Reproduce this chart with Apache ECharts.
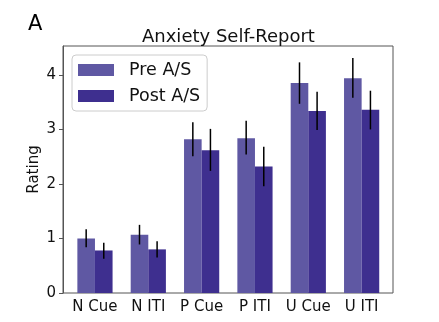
<!DOCTYPE html>
<html><head><meta charset="utf-8">
<script src="https://cdn.jsdelivr.net/npm/echarts@6/dist/echarts.min.js"></script>
<style>html,body{margin:0;padding:0;background:#fff}#c{width:439px;height:322px}</style>
</head><body><div id="c"></div>
<script>
const categories = ['N Cue','N ITI','P Cue','P ITI','U Cue','U ITI'];
const preValues  = [1.00, 1.07, 2.82, 2.84, 3.85, 3.94];
const preLow     = [0.84, 0.89, 2.51, 2.54, 3.47, 3.58];
const preHigh    = [1.17, 1.25, 3.13, 3.16, 4.23, 4.31];
const postValues = [0.78, 0.80, 2.62, 2.32, 3.34, 3.36];
const postLow    = [0.63, 0.65, 2.24, 1.96, 2.99, 3.00];
const postHigh   = [0.92, 0.95, 3.01, 2.68, 3.69, 3.71];
const yTicks = [0,1,2,3,4];

const font = 'DejaVu Sans';
const BW = 17.6;
const preColor = '#5f58a3', postColor = '#3e2f8f';

function errSeries(name, low, high, side){
  return {
    type:'custom', xAxisIndex:1, yAxisIndex:1, silent:true, z:5,
    data: categories.map((c,i)=>[i, low[i], high[i]]),
    renderItem(params, api){
      const a = api.coord([api.value(0), api.value(1)]);
      const b = api.coord([api.value(0), api.value(2)]);
      const x = a[0] + side*BW/2;
      return {type:'line', shape:{x1:x,y1:a[1],x2:x,y2:b[1]}, style:{stroke:'#000', lineWidth:1.5}};
    }
  };
}

const chart = echarts.init(document.getElementById('c'), null, {renderer:'canvas'});
chart.setOption({
  animation:false,
  textStyle:{fontFamily:font},
  title:[
    {text:'A', left:23, top:9, textStyle:{fontFamily:font, fontSize:21, fontWeight:'normal', color:'#000'}},
    {text:'Anxiety Self-Report', left:137, top:23, textStyle:{fontFamily:font, fontSize:18, fontWeight:'normal', color:'#111'}}
  ],
  legend:{
    data:['Pre A/S','Post A/S'], orient:'vertical', left:72, top:55,
    icon:'rect', itemWidth:36, itemHeight:12, itemGap:8,
    backgroundColor:'#fff', borderColor:'#ccc', borderWidth:1, borderRadius:4,
    padding:[6,7,6,6],
    textStyle:{fontFamily:font, fontSize:17.5, color:'#111', padding:[0,0,0,10]}
  },
  grid:[
    {left:63, top:46, width:330, height:247, show:true, borderColor:'#555', borderWidth:1, backgroundColor:'transparent'},
    {left:68.3, top:46, width:320, height:247}
  ],
  xAxis:[
    {gridIndex:0, type:'value', min:0, max:1, show:false},
    {gridIndex:1, type:'category', data:categories, axisLine:{show:false}, axisTick:{show:false},
     axisLabel:{fontFamily:font, fontSize:15, color:'#111', margin:7, interval:0}}
  ],
  yAxis:[
    {gridIndex:0, type:'value', min:0, max:4.53, interval:1, name:'Rating', nameLocation:'middle', nameGap:21,
     nameMoveOverlap:false,
     nameTextStyle:{fontFamily:font, fontSize:15, color:'#111'},
     axisLine:{show:true, lineStyle:{color:'#555'}}, axisTick:{show:true, length:4, lineStyle:{color:'#555'}},
     axisLabel:{fontFamily:font, fontSize:15, color:'#111', margin:7, showMaxLabel:false,
       formatter:v=> yTicks.includes(v) ? String(v) : ''},
     splitLine:{show:false}},
    {gridIndex:1, type:'value', min:0, max:4.53, show:false, splitLine:{show:false}}
  ],
  series:[
    {name:'Pre A/S', type:'bar', xAxisIndex:1, yAxisIndex:1, data:preValues, barWidth:BW, barGap:'0%',
     itemStyle:{color:preColor}},
    {name:'Post A/S', type:'bar', xAxisIndex:1, yAxisIndex:1, data:postValues, barWidth:BW, barGap:'0%',
     itemStyle:{color:postColor}},
    errSeries('preErr', preLow, preHigh, -1),
    errSeries('postErr', postLow, postHigh, 1)
  ]
});
</script></body></html>
